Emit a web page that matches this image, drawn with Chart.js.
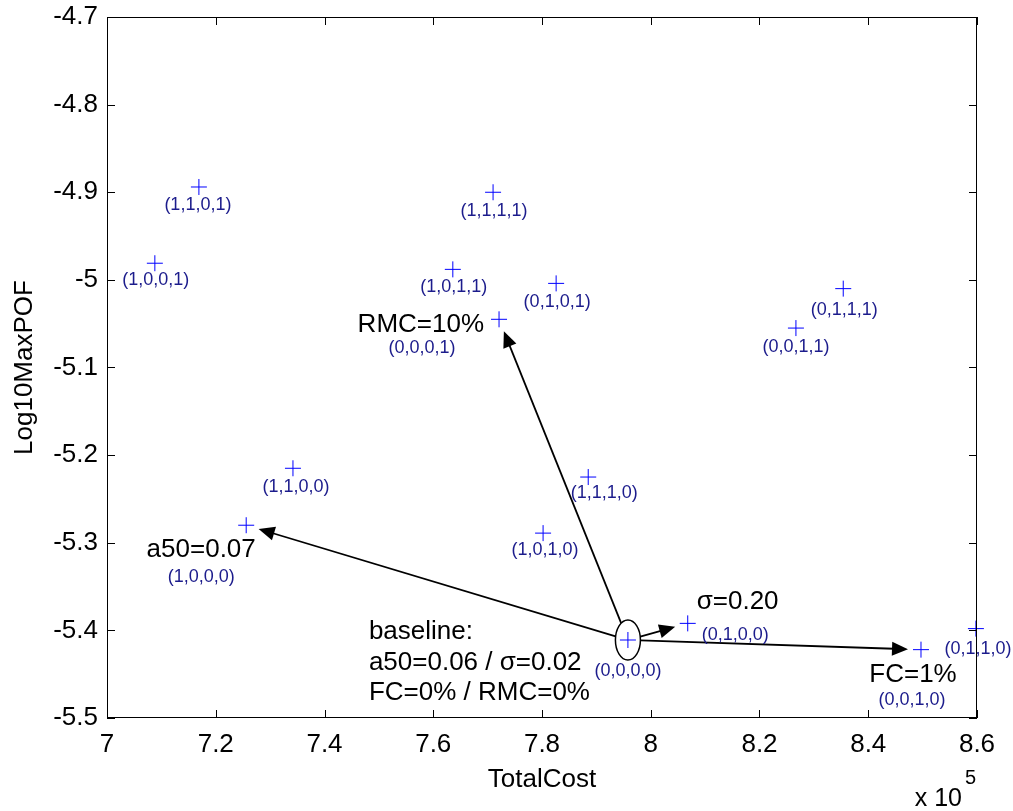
<!DOCTYPE html>
<html><head><meta charset="utf-8">
<script src="https://cdn.jsdelivr.net/npm/chart.js@4.4.1/dist/chart.umd.min.js"></script>
<style>html,body{margin:0;padding:0;background:#fff;overflow:hidden}#wrap{width:1013px;height:811px;position:relative}canvas{display:block}</style>
</head><body><div id="wrap"><canvas id="c" width="1013" height="811" style="width:1013px;height:811px"></canvas></div>
<script>
// ---- data ----
const configLabels = ['(1,1,0,1)','(1,0,0,1)','(1,1,0,0)','(1,0,0,0)','(1,1,1,1)','(1,0,1,1)','(0,1,0,1)','(0,0,0,1)','(1,1,1,0)','(1,0,1,0)','(0,1,1,1)','(0,0,1,1)','(0,0,0,0)','(0,1,0,0)','(0,0,1,0)','(0,1,1,0)'];
const totalCostE5 = [7.169,7.088,7.342,7.256,7.710,7.636,7.826,7.721,7.885,7.802,8.354,8.267,7.958,8.068,8.497,8.598];
const log10MaxPOF = [-4.894,-4.981,-5.215,-5.280,-4.900,-4.988,-5.004,-5.045,-5.225,-5.289,-5.010,-5.055,-5.411,-5.392,-5.422,-5.398];
const xTickValues = [7,7.2,7.4,7.6,7.8,8,8.2,8.4,8.6];
const xTickLabels = ['7','7.2','7.4','7.6','7.8','8','8.2','8.4','8.6'];
const yTickValues = [-5.5,-5.4,-5.3,-5.2,-5.1,-5,-4.9,-4.8,-4.7];
const yTickLabels = ['-5.5','-5.4','-5.3','-5.2','-5.1','-5','-4.9','-4.8','-4.7'];
const baselineConfig = '(0,0,0,0)';
const changeConfigs = ['(1,0,0,0)','(0,0,0,1)','(0,1,0,0)','(0,0,1,0)'];
const changeTexts = ['a50=0.07','RMC=10%','σ=0.20','FC=1%'];
const baselineText = ['baseline:','a50=0.06 / σ=0.02','FC=0% / RMC=0%'];
const xTitle = 'TotalCost';
const yTitle = 'Log10MaxPOF';
const exponentBase = 'x 10';
const exponentPower = '5';

// ---- layout / style (pixel offsets for text) ----
const FONT = '"Liberation Sans", Arial, Helvetica, sans-serif';
const smallOffsets = {
  '(1,1,0,1)':[-1,18,'center'],'(1,0,0,1)':[1,17,'center'],'(1,1,0,0)':[3,19,'center'],
  '(1,0,0,0)':[-45,52,'center'],'(1,1,1,1)':[1,19,'center'],'(1,0,1,1)':[1,18,'center'],
  '(0,1,0,1)':[1,19,'center'],'(0,0,0,1)':[-77,29,'center'],'(1,1,1,0)':[16,16,'center'],
  '(1,0,1,0)':[2,17,'center'],'(0,1,1,1)':[1,21,'center'],'(0,0,1,1)':[0,19,'center'],
  '(0,0,0,0)':[0,31,'center'],'(0,1,0,0)':[14,12,'left'],'(0,0,1,0)':[-9,50,'center'],
  '(0,1,1,0)':[2,20,'center']
};
const bigOffsets = [[-45,25,'center'],[-15,6,'right'],[9,-22,'left'],[-8,25,'center']];
const baselineTextOffsets = [[-259,-8],[-259,23],[-259,53]];

const annot = {
  id:'annot',
  afterDraw(chart){
    const {ctx, chartArea:a, scales:{x,y}} = chart;
    ctx.save();
    // box
    ctx.strokeStyle='#000'; ctx.lineWidth=1;
    ctx.strokeRect(a.left+0.5, a.top+0.5, a.right-a.left-1, a.bottom-a.top-1);
    // inward ticks
    const tl=8;
    ctx.beginPath();
    xTickValues.forEach(v=>{const p=Math.round(x.getPixelForValue(v))+0.5;
      ctx.moveTo(p,a.bottom); ctx.lineTo(p,a.bottom-tl); ctx.moveTo(p,a.top); ctx.lineTo(p,a.top+tl);});
    yTickValues.forEach(v=>{const p=Math.round(y.getPixelForValue(v))+0.5;
      ctx.moveTo(a.left,p); ctx.lineTo(a.left+tl,p); ctx.moveTo(a.right,p); ctx.lineTo(a.right-tl,p);});
    ctx.stroke();

    const px = i => [x.getPixelForValue(totalCostE5[i]), y.getPixelForValue(log10MaxPOF[i])];
    const bi = configLabels.indexOf(baselineConfig);
    const [bx,by] = px(bi);
    const rx=12.5, ry=20;
    // ellipse
    ctx.beginPath(); ctx.ellipse(bx,by,rx,ry,0,0,Math.PI*2); ctx.lineWidth=1.5; ctx.strokeStyle='#000'; ctx.stroke();
    // arrows
    changeConfigs.forEach((c,k)=>{
      const [tx,ty]=px(configLabels.indexOf(c));
      let dx=tx-bx, dy=ty-by; const L=Math.hypot(dx,dy); dx/=L; dy/=L;
      const t=1/Math.sqrt((dx/rx)**2+(dy/ry)**2);
      const sx=bx+dx*t, sy=by+dy*t;
      const ex=tx-dx*13, ey=ty-dy*13;
      const hl=16, hw=7;
      const hx=ex-dx*hl, hy=ey-dy*hl;
      ctx.beginPath(); ctx.moveTo(sx,sy); ctx.lineTo(hx+dx*2,hy+dy*2); ctx.lineWidth=1.8; ctx.stroke();
      ctx.beginPath(); ctx.moveTo(ex,ey); ctx.lineTo(hx-dy*hw,hy+dx*hw); ctx.lineTo(hx+dy*hw,hy-dx*hw); ctx.closePath();
      ctx.fillStyle='#000'; ctx.fill();
    });
    // small labels
    ctx.font='18px '+FONT; ctx.fillStyle='#1c1c8c'; ctx.textBaseline='middle';
    configLabels.forEach((lab,i)=>{
      const [p,q]=px(i); const o=smallOffsets[lab]||[0,18,'center'];
      ctx.textAlign=o[2]; ctx.fillText(lab,p+o[0],q+o[1]);
    });
    // big labels
    ctx.font='26px '+FONT; ctx.fillStyle='#000';
    changeConfigs.forEach((c,k)=>{
      const [p,q]=px(configLabels.indexOf(c)); const o=bigOffsets[k];
      ctx.textAlign=o[2]; ctx.fillText(changeTexts[k],p+o[0],q+o[1]);
    });
    ctx.textAlign='left';
    baselineText.forEach((t,k)=>{ctx.fillText(t,bx+baselineTextOffsets[k][0],by+baselineTextOffsets[k][1]);});
    // exponent
    ctx.font='25px '+FONT; ctx.textAlign='right'; ctx.fillText(exponentBase,a.right-15,799);
    ctx.font='20px '+FONT; ctx.textAlign='left'; ctx.fillText(exponentPower,a.right-12,778);
    ctx.restore();
  }
};

new Chart(document.getElementById('c'),{
  type:'scatter',
  data:{datasets:[{
    data: totalCostE5.map((v,i)=>({x:v,y:log10MaxPOF[i]})),
    pointStyle:'cross', pointRadius:8, pointHoverRadius:8, borderColor:'#0000ff', backgroundColor:'#0000ff', borderWidth:1,
    clip:false
  }]},
  options:{
    responsive:false, maintainAspectRatio:false, animation:false, devicePixelRatio:1,
    layout:{padding:{top:17,right:36,left:0,bottom:0}},
    plugins:{legend:{display:false},tooltip:{enabled:false}},
    scales:{
      x:{type:'linear',min:7,max:8.6,
        afterBuildTicks:s=>{s.ticks=xTickValues.map(v=>({value:v}));},
        afterFit:s=>{s.height=93;},
        grid:{display:false,drawTicks:false},border:{display:false},
        ticks:{color:'#000',font:{family:FONT,size:26},padding:11,maxRotation:0,autoSkip:false,
          callback:(v,i)=>xTickLabels[i]},
        title:{display:true,text:xTitle,color:'#000',font:{family:FONT,size:26},padding:{top:0,bottom:16}}
      },
      y:{type:'linear',min:-5.5,max:-4.7,
        afterBuildTicks:s=>{s.ticks=yTickValues.map(v=>({value:v}));},
        afterFit:s=>{s.width=107; s.paddingTop=0; s.paddingBottom=0;},
        grid:{display:false,drawTicks:false},border:{display:false},
        ticks:{color:'#000',font:{family:FONT,size:26,lineHeight:0.5},padding:9,autoSkip:false,
          callback:(v,i)=>yTickLabels[i]},
        title:{display:true,text:yTitle,color:'#000',font:{family:FONT,size:26},padding:{top:9,bottom:0}}
      }
    }
  },
  plugins:[annot]
});
</script></body></html>
